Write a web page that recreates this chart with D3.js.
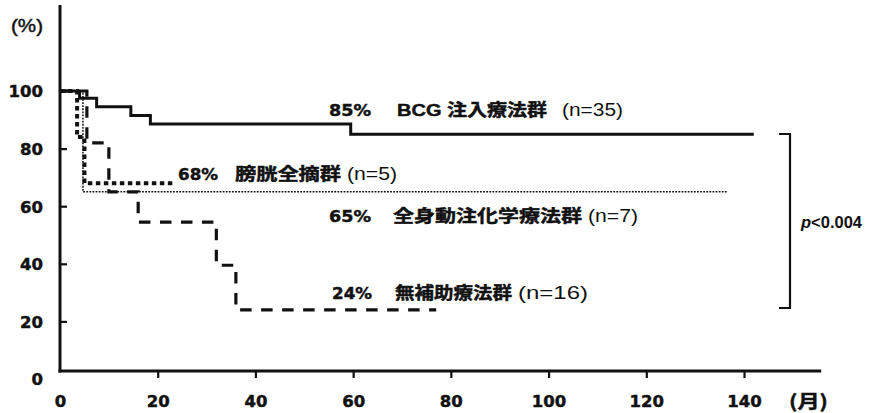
<!DOCTYPE html>
<html>
<head>
<meta charset="utf-8">
<script src="https://cdn.jsdelivr.net/npm/d3@7"></script>
<style>
  html, body { margin: 0; padding: 0; background: #fff; }
  svg { display: block; }
  .heavy { stroke: #111; stroke-width: 0.45px; paint-order: stroke; }
</style>
</head>
<body>
<svg id="chart" width="872" height="413"></svg>
<script>
// Survival curves (months, %) for each treatment group
const bcgTime   = [0, 4, 7.5, 14.5, 18.5, 59.5, 142];
const bcgSurv   = [100, 97.5, 94.5, 91.5, 88.5, 85, 85];
const cysTime   = [0, 3.5, 5, 23];
const cysSurv   = [100, 84, 68, 68];
const chemoTime = [0, 4.7, 136.5];
const chemoSurv = [100, 65, 65];
const noneTime  = [0, 5.5, 10, 16, 32, 36, 77];
const noneSurv  = [100, 82, 65, 54.5, 39.5, 24, 24];

const groupNames = ["BCG 注入療法群", "膀胱全摘群", "全身動注化学療法群", "無補助療法群"];
const groupN     = ["(n=35)", "(n=5)", "(n=7)", "(n=16)"];

const xTicks = [0, 20, 40, 60, 80, 100, 120, 140];
const yTicks = [0, 20, 40, 60, 80, 100];
const pValueText = "<0.004";

const svg = d3.select("#chart");
const ink = "#111";

const x = d3.scaleLinear().domain([0, 140]).range([60, 744]);
const y = d3.scaleLinear().domain([0, 100]).range([379, 91]);
const axisY = y(0) - 8;          // horizontal axis sits just above the zero line

// --- axes ---
const yAxis = d3.axisLeft(y).tickValues(yTicks).tickSizeInner(-7).tickSizeOuter(0).tickPadding(17);
const gy = svg.append("g").attr("transform", `translate(${x(0)},0)`).call(yAxis);
gy.select(".domain").remove();
gy.selectAll(".tick line").attr("stroke", ink).attr("stroke-width", 2.2)
  .filter(d => d === 0).remove();
gy.selectAll(".tick text")
  .attr("class", "heavy")
  .attr("font-family", "'DejaVu Sans', sans-serif").attr("font-weight", "bold")
  .attr("font-size", 16.5).attr("fill", ink).attr("dy", "0.36em");

const xAxis = d3.axisBottom(x).tickValues(xTicks).tickSizeInner(7).tickSizeOuter(0).tickPadding(17);
const gx = svg.append("g").attr("transform", `translate(0,${axisY})`).call(xAxis);
gx.select(".domain").remove();
gx.selectAll(".tick line").attr("stroke", ink).attr("stroke-width", 2.2)
  .filter(d => d === 0).remove();
gx.selectAll(".tick text")
  .attr("class", "heavy")
  .attr("font-family", "'DejaVu Sans', sans-serif").attr("font-weight", "bold")
  .attr("font-size", 16.5).attr("fill", ink);

// axis lines
svg.append("line").attr("x1", x(0)).attr("x2", x(0)).attr("y1", 5).attr("y2", axisY + 1.5)
  .attr("stroke", ink).attr("stroke-width", 3);
svg.append("line").attr("x1", x(0) - 1.5).attr("x2", x(155.8)).attr("y1", axisY).attr("y2", axisY)
  .attr("stroke", ink).attr("stroke-width", 3);

// axis unit labels
svg.append("text").attr("x", 11).attr("y", 26).attr("dominant-baseline", "central")
  .attr("class", "heavy")
  .attr("font-family", "'Liberation Sans', Arial, sans-serif").attr("font-size", 18)
  .attr("textLength", 32).attr("lengthAdjust", "spacingAndGlyphs").attr("fill", ink).text("(%)");
svg.append("text").attr("x", 789).attr("y", 400).attr("dominant-baseline", "central")
  .attr("class", "heavy")
  .attr("font-family", "'Noto Sans CJK JP', sans-serif").attr("font-weight", "bold").attr("font-size", 18)
  .attr("textLength", 39).attr("lengthAdjust", "spacingAndGlyphs").attr("fill", ink).text("(月)");

// --- survival curves ---
const series = [
  { t: bcgTime,   s: bcgSurv,   width: 3,   dash: null },
  { t: cysTime,   s: cysSurv,   width: 4,   dash: "4.5,3.5" },
  { t: chemoTime, s: chemoSurv, width: 1.5, dash: "1.8,1.3" },
  { t: noneTime,  s: noneSurv,  width: 3.2, dash: "11.5,9.5" }
];
const line = d3.line().x(d => x(d[0])).y(d => y(d[1])).curve(d3.curveStepAfter);
series.forEach(sr => {
  const pts = sr.t.map((t, i) => [t, sr.s[i]]);
  svg.append("path").datum(pts).attr("d", line)
    .attr("fill", "none").attr("stroke", ink).attr("stroke-width", sr.width)
    .attr("stroke-dasharray", sr.dash);
});

// --- group labels: final survival %, group name, patient count ---
const labelLayout = [
  { y: 110, pctX: 329, pctW: 42, nameX: 397, nameW: 150, nX: 562, nW: 61 },
  { y: 174, pctX: 178, pctW: 40, nameX: 235, nameW: 106, nX: 347, nW: 50 },
  { y: 216, pctX: 329, pctW: 42, nameX: 393, nameW: 189, nX: 588, nW: 50 },
  { y: 293, pctX: 332, pctW: 40, nameX: 395, nameW: 117, nX: 518, nW: 70 }
];
series.forEach((sr, i) => {
  const L = labelLayout[i];
  const g = svg.append("g").attr("fill", ink);
  g.append("text").attr("x", L.pctX).attr("y", L.y).attr("dominant-baseline", "central")
    .attr("class", "heavy")
    .attr("font-family", "'DejaVu Sans', sans-serif").attr("font-weight", "bold").attr("font-size", 16.5)
    .attr("textLength", L.pctW).attr("lengthAdjust", "spacingAndGlyphs")
    .text(`${sr.s[sr.s.length - 1]}%`);
  g.append("text").attr("x", L.nameX).attr("y", L.y).attr("dominant-baseline", "central")
    .attr("class", "heavy")
    .attr("font-family", "'Liberation Sans', 'Noto Sans CJK JP', sans-serif").attr("font-weight", "bold").attr("font-size", 17)
    .attr("textLength", L.nameW).attr("lengthAdjust", "spacingAndGlyphs")
    .text(groupNames[i]);
  g.append("text").attr("x", L.nX).attr("y", L.y).attr("dominant-baseline", "central")
    .attr("font-family", "'Liberation Sans', Arial, sans-serif").attr("font-size", 18)
    .attr("textLength", L.nW).attr("lengthAdjust", "spacingAndGlyphs")
    .text(groupN[i]);
});

// --- significance bracket ---
const bTop = 134, bBot = 308, bX = 790;
svg.append("path")
  .attr("d", `M${bX - 11},${bTop}H${bX}V${bBot}H${bX - 11}`)
  .attr("fill", "none").attr("stroke", ink).attr("stroke-width", 2.2);
const pt = svg.append("text").attr("x", 801).attr("y", 222).attr("dominant-baseline", "central")
  .attr("font-family", "'Liberation Sans', Arial, sans-serif").attr("font-weight", "bold").attr("font-size", 17)
  .attr("textLength", 61).attr("lengthAdjust", "spacingAndGlyphs").attr("fill", ink);
pt.append("tspan").attr("font-style", "italic").text("p");
pt.append("tspan").text(pValueText);
</script>
</body>
</html>
